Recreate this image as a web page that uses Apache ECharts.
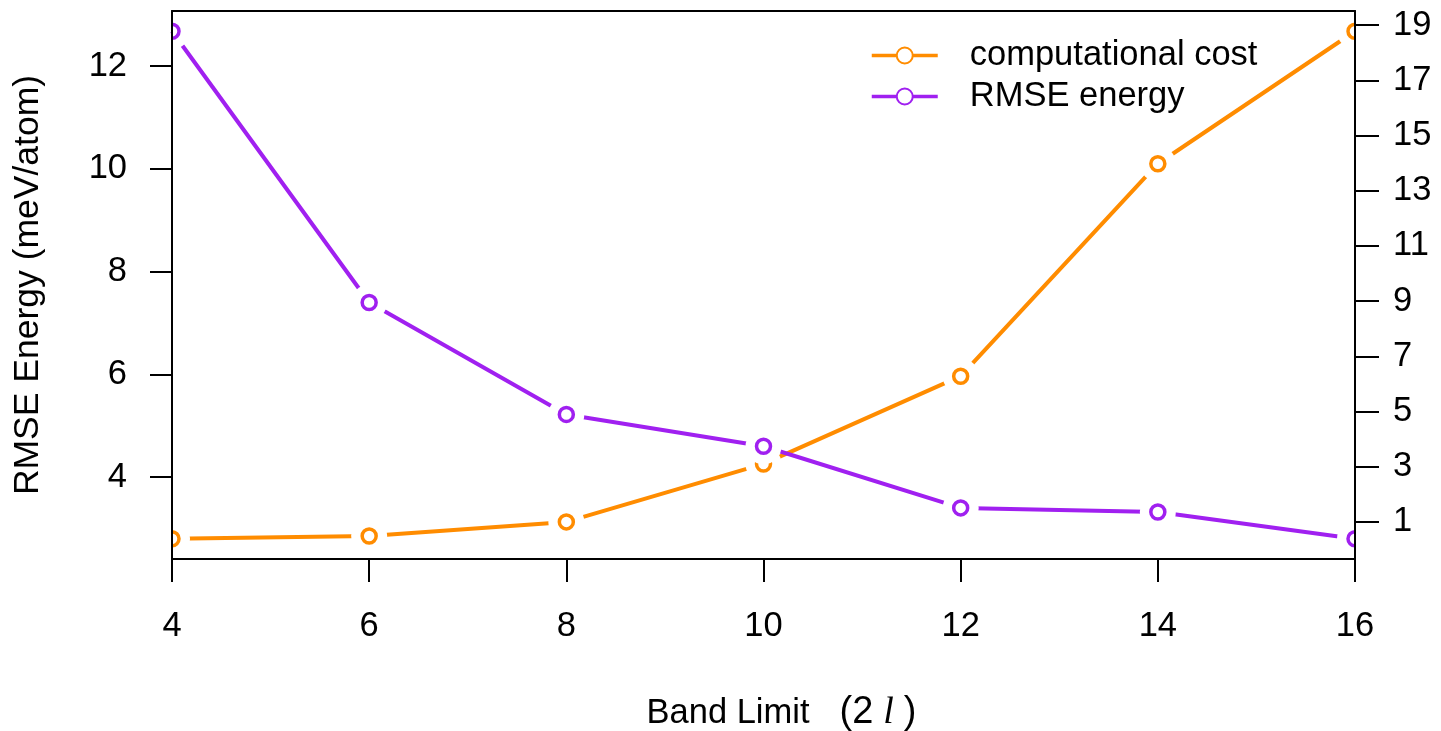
<!DOCTYPE html>
<html>
<head>
<meta charset="utf-8">
<script src="https://cdn.jsdelivr.net/npm/echarts@6/dist/echarts.min.js"></script>
<style>
html,body{margin:0;padding:0;background:#fff;}
#main{width:1441px;height:731px;}
</style>
</head>
<body>
<div id="main"></div>
<script>
// 数据
var bandLimit = [4, 6, 8, 10, 12, 14, 16];
var costValues = [0.39, 0.49, 1.0, 3.1, 6.28, 13.98, 18.78];   // 右轴
var rmseValues = [12.68, 7.40, 5.22, 4.60, 3.40, 3.32, 2.80];  // 左轴
var xTicks = [4, 6, 8, 10, 12, 14, 16];
var leftTicks = [4, 6, 8, 10, 12];
var rightTicks = [1, 3, 5, 7, 9, 11, 13, 15, 17, 19];

var ORANGE = '#FF8C00';
var PURPLE = '#A020F0';
var FONT = '"Liberation Sans", Arial, sans-serif';

function pairs(xs, ys){
    var out = [];
    for (var i = 0; i < xs.length; i++) out.push([xs[i], ys[i]]);
    return out;
}

// R 的 type="b" 效果：白色圆盘遮断线段，再画空心圆，裁剪到绘图区
function markerRender(color){
    return function(params, api){
        var p = api.coord([api.value(0), api.value(1)]);
        var cs = params.coordSys;
        return {
            type: 'group',
            clipPath: {type: 'rect', shape: {x: cs.x, y: cs.y, width: cs.width, height: cs.height}},
            children: [
                {type: 'circle', shape: {cx: p[0], cy: p[1], r: 18}, style: {fill: '#fff'}},
                {type: 'circle', shape: {cx: p[0], cy: p[1], r: 7}, style: {fill: 'none', stroke: color, lineWidth: 3.5}}
            ]
        };
    };
}

var chart = echarts.init(document.getElementById('main'));
var axisLineStyle = {color: '#000', width: 2};

var option = {
    backgroundColor: '#fff',
    animation: false,
    grid: {left: 172, right: 86, top: 11, bottom: 172, containLabel: false, outerBoundsMode: 'none'},
    legend: {
        orient: 'vertical',
        left: 865,
        top: 33,
        itemWidth: 66,
        itemHeight: 20,
        itemGap: 6,
        data: ['computational cost', 'RMSE energy'],
        itemStyle: {borderWidth: 3.5},
        lineStyle: {width: 3.5},
        textStyle: {fontSize: 34.5, fontFamily: FONT, color: '#000', padding: [0, 0, 0, 27]}
    },
    xAxis: [{
        type: 'value',
        min: 4, max: 16, interval: 2,
        position: 'bottom',
        z: 10,
        axisLine: {show: true, onZero: false, lineStyle: axisLineStyle},
        axisTick: {show: true, length: 23, lineStyle: axisLineStyle, customValues: xTicks},
        axisLabel: {fontSize: 34.5, fontFamily: FONT, color: '#000', margin: 50, customValues: xTicks},
        splitLine: {show: false},
        name: '{a|Band Limit}{b|(2}{c|l}{d|)}',
        nameLocation: 'middle',
        nameGap: 135,
        nameTextStyle: {
            rich: {
                a: {fontSize: 34.5, fontFamily: FONT, color: '#000', padding: [0, 0, 0, 36]},
                b: {fontSize: 38, fontFamily: FONT, color: '#000', padding: [0, 0, 0, 30]},
                c: {fontSize: 38, fontFamily: '"Liberation Serif", serif', fontStyle: 'italic', color: '#000', padding: [0, 0, 0, 10]},
                d: {fontSize: 38, fontFamily: FONT, color: '#000', padding: [0, 0, 0, 10]}
            }
        }
    }, {
        type: 'value',
        min: 4, max: 16,
        position: 'top',
        z: 10,
        axisLine: {show: true, onZero: false, lineStyle: axisLineStyle},
        axisTick: {show: false},
        axisLabel: {show: false},
        splitLine: {show: false}
    }],
    yAxis: [{
        type: 'value',
        min: 2.405, max: 13.075,
        position: 'left',
        z: 10,
        axisLine: {show: true, onZero: false, lineStyle: axisLineStyle},
        axisTick: {show: true, length: 22, lineStyle: axisLineStyle, customValues: leftTicks},
        axisLabel: {fontSize: 34.5, fontFamily: FONT, color: '#000', margin: 45, customValues: leftTicks},
        splitLine: {show: false},
        name: 'RMSE Energy (meV/atom)',
        nameLocation: 'middle',
        nameGap: 126,
        nameTextStyle: {fontSize: 35.5, fontFamily: FONT, color: '#000'}
    }, {
        type: 'value',
        min: -0.345, max: 19.515,
        position: 'right',
        z: 10,
        axisLine: {show: true, onZero: false, lineStyle: axisLineStyle},
        axisTick: {show: true, length: 24, lineStyle: axisLineStyle, customValues: rightTicks},
        axisLabel: {fontSize: 34.5, fontFamily: FONT, color: '#000', margin: 38, customValues: rightTicks},
        splitLine: {show: false}
    }],
    series: [{
        name: 'computational cost',
        type: 'line',
        yAxisIndex: 1,
        data: pairs(bandLimit, costValues),
        symbol: 'emptyCircle',
        symbolSize: 17,
        showSymbol: false,
        itemStyle: {color: ORANGE, borderWidth: 3.5},
        lineStyle: {color: ORANGE, width: 4},
        z: 2
    }, {
        name: 'RMSE energy',
        type: 'line',
        yAxisIndex: 0,
        data: pairs(bandLimit, rmseValues),
        symbol: 'emptyCircle',
        symbolSize: 17,
        showSymbol: false,
        itemStyle: {color: PURPLE, borderWidth: 3.5},
        lineStyle: {color: PURPLE, width: 4},
        z: 2
    }, {
        name: 'cost-points',
        type: 'custom',
        yAxisIndex: 1,
        data: pairs(bandLimit, costValues),
        renderItem: markerRender(ORANGE),
        z: 3
    }, {
        name: 'rmse-points',
        type: 'custom',
        yAxisIndex: 0,
        data: pairs(bandLimit, rmseValues),
        renderItem: markerRender(PURPLE),
        z: 4
    }]
};
chart.setOption(option);
</script>
</body>
</html>
